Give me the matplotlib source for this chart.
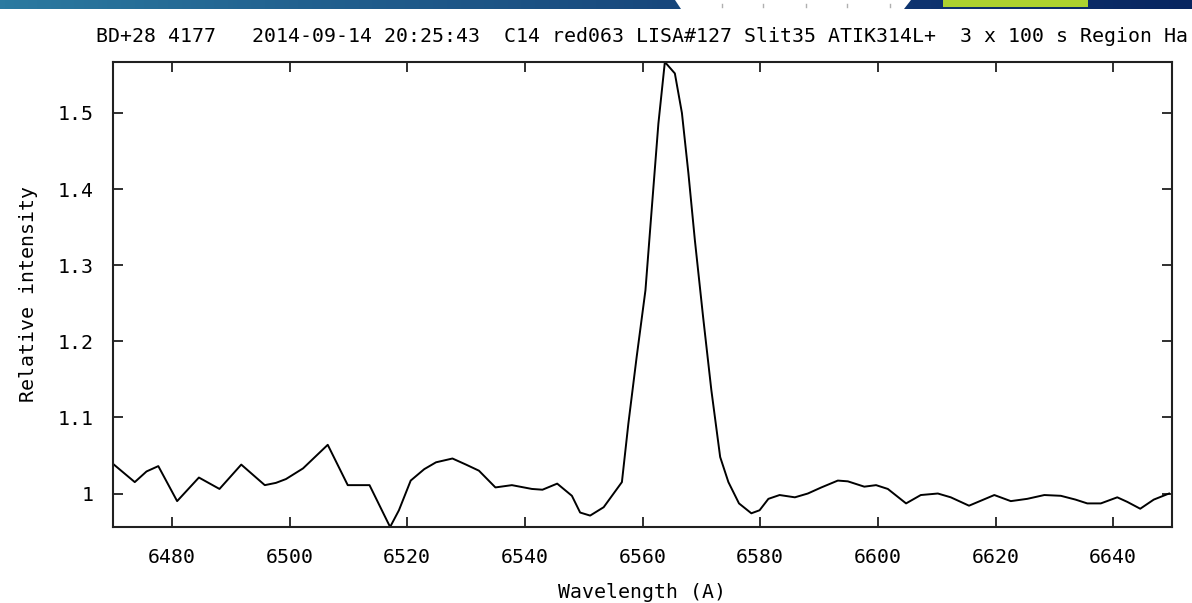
import numpy as np
import matplotlib
matplotlib.use("Agg")
import matplotlib.pyplot as plt
from matplotlib.patches import Polygon, Rectangle

TITLE = "BD+28 4177   2014-09-14 20:25:43  C14 red063 LISA#127 Slit35 ATIK314L+  3 x 100 s Region Ha"
XLABEL = "Wavelength (A)"
YLABEL = "Relative intensity"

# spectrum (wavelength in A, relative intensity)
wavelength = [
    6470.0, 6473.7, 6475.7, 6477.7, 6480.9, 6484.6, 6488.1, 6491.8, 6495.8, 6497.7,
    6499.4, 6502.3, 6506.5, 6509.9, 6513.6, 6517.1, 6518.6, 6520.6, 6522.9, 6524.9,
    6527.7, 6530.0, 6532.2, 6535.0, 6537.8, 6541.2, 6543.0, 6545.5, 6548.0, 6549.4,
    6551.1, 6553.4, 6556.5, 6557.6, 6559.0, 6560.5, 6561.6, 6562.7, 6563.8, 6565.5,
    6566.7, 6567.8, 6568.9, 6570.3, 6571.7, 6573.2, 6574.6, 6576.4, 6578.5, 6579.9,
    6581.4, 6583.3, 6585.9, 6588.1, 6590.4, 6593.2, 6594.9, 6597.7, 6599.7, 6601.7,
    6604.8, 6607.3, 6610.2, 6612.4, 6615.5, 6619.8, 6622.6, 6625.4, 6628.3, 6631.1,
    6633.6, 6635.6, 6637.9, 6640.7, 6642.4, 6644.6, 6646.9, 6649.5,
]
intensity = [
    1.039, 1.015, 1.029, 1.036, 0.990, 1.021, 1.006, 1.038, 1.011, 1.014,
    1.019, 1.033, 1.064, 1.011, 1.011, 0.956, 0.978, 1.017, 1.032, 1.041,
    1.046, 1.038, 1.030, 1.008, 1.011, 1.006, 1.005, 1.013, 0.997, 0.975,
    0.971, 0.982, 1.015, 1.092, 1.179, 1.267, 1.377, 1.486, 1.567, 1.552,
    1.500, 1.421, 1.333, 1.232, 1.136, 1.048, 1.015, 0.987, 0.974, 0.978,
    0.993, 0.998, 0.995, 1.000, 1.008, 1.017, 1.016, 1.009, 1.011, 1.006,
    0.987, 0.998, 1.000, 0.995, 0.984, 0.998, 0.990, 0.993, 0.998, 0.997,
    0.992, 0.987, 0.987, 0.995, 0.989, 0.980, 0.992, 1.000,
]
xticks = [6480, 6500, 6520, 6540, 6560, 6580, 6600, 6620, 6640]
yticks = [1.0, 1.1, 1.2, 1.3, 1.4, 1.5]
ytick_labels = ["1", "1.1", "1.2", "1.3", "1.4", "1.5"]

plt.rcParams["font.family"] = ["DejaVu Sans Mono", "DejaVu Sans"]
plt.rcParams["font.size"] = 14.3

W, H = 1192, 603
fig = plt.figure(figsize=(W / 100, H / 100), dpi=100)

# website header strip at the top
band = fig.add_axes([0, 1 - 9 / H, 1, 9 / H])
grad = np.linspace(0, 1, 256)[None, :]
cmap = matplotlib.colors.LinearSegmentedColormap.from_list(
    "band", ["#2b7aa0", "#22618f", "#1a4d80", "#0f3570", "#082660"])
band.imshow(grad, aspect="auto", cmap=cmap, extent=[0, W, 9, 0])
band.add_patch(Polygon([[675, 0], [911, 0], [904, 9], [681, 9]], closed=True,
                       facecolor="white", edgecolor="none"))
for tx in [722, 763, 806, 847, 890]:
    band.plot([tx, tx], [4, 7], color="#b0b0b0", lw=1)
band.add_patch(Rectangle((943, 0), 145, 7, facecolor="#acd22f", edgecolor="none"))
band.set_xlim(0, W)
band.set_ylim(9, 0)
band.set_axis_off()

ax = fig.add_axes([113 / W, (H - 527) / H, (1172 - 113) / W, (527 - 62) / H])
ax.plot(wavelength, intensity, color="black", lw=1.4)
ax.set_xlim(6470, 6650)
ax.set_ylim(min(intensity), max(intensity))

ax.set_xticks(xticks)
ax.set_yticks(yticks)
ax.set_yticklabels(ytick_labels)
ax.tick_params(direction="in", length=7, width=1.3, top=True, right=True,
               color="#202020", pad=14)
ax.tick_params(axis="x", pad=15)
for s in ax.spines.values():
    s.set_linewidth(1.5)
    s.set_color("#202020")

ax.set_xlabel(XLABEL, labelpad=12)
ax.set_ylabel(YLABEL, labelpad=14)
fig.text((113 + 1172) / 2 / W, 1 - 37 / H, TITLE, ha="center", va="center")

plt.savefig("out.png", dpi=100)
plt.close()
